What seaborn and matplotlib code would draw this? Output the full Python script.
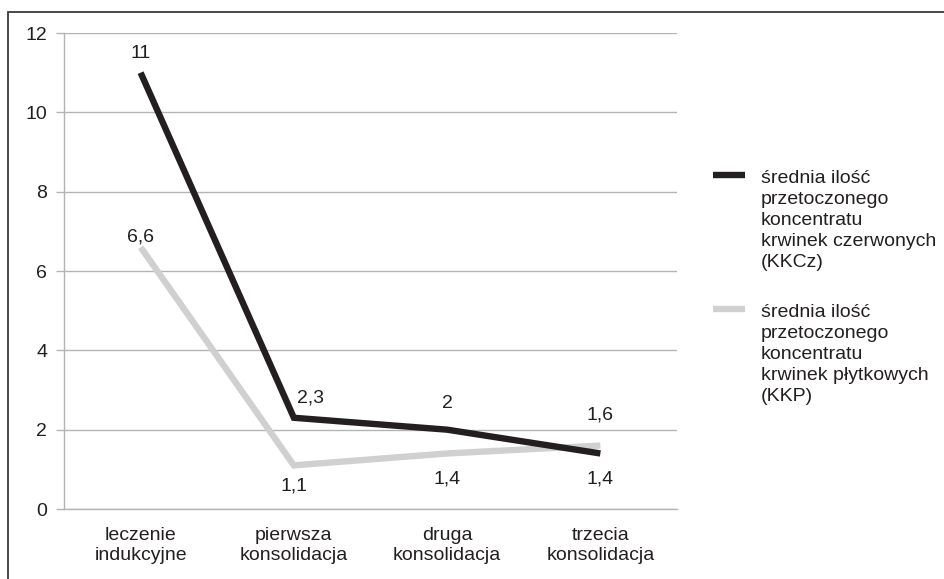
import pandas as pd
import matplotlib
matplotlib.use('Agg')
import matplotlib.pyplot as plt
import seaborn as sns
from matplotlib.legend_handler import HandlerLine2D
from matplotlib.patches import Rectangle

# dane
etapy = ['leczenie\nindukcyjne', 'pierwsza\nkonsolidacja', 'druga\nkonsolidacja', 'trzecia\nkonsolidacja']
kkcz = [11, 2.3, 2, 1.4]
kkp = [6.6, 1.1, 1.4, 1.6]
seria_kkcz = 'średnia ilość\nprzetoczonego\nkoncentratu\nkrwinek czerwonych\n(KKCz)'
seria_kkp = 'średnia ilość\nprzetoczonego\nkoncentratu\nkrwinek płytkowych\n(KKP)'

df = pd.DataFrame({
    'x': list(range(len(etapy))) * 2,
    'wartosc': kkcz + kkp,
    'seria': [seria_kkcz] * len(kkcz) + [seria_kkp] * len(kkp),
})

sns.set_style('white')
plt.rcParams['font.family'] = ['Liberation Sans', 'DejaVu Sans']
TXT = '#231f20'
GRID = '#b4b4b4'
FS = 14

fig = plt.figure(figsize=(9.45, 5.79), dpi=100)
ax = fig.add_axes([64 / 945, 1 - 509 / 579, (677 - 64) / 945, (509 - 33) / 579])

# gray first so the black line sits on top
kolory = {seria_kkcz: '#231f20', seria_kkp: '#d0d0d0'}
sns.lineplot(data=df, x='x', y='wartosc', hue='seria', hue_order=[seria_kkp, seria_kkcz],
             palette=kolory, linewidth=4.6, ax=ax, legend=False,
             solid_joinstyle='miter', solid_capstyle='butt')

ax.set_xlim(-0.5, len(etapy) - 0.5)
ax.set_ylim(0, 12)
ax.set_yticks(range(0, 13, 2))
ax.set_xticks(range(len(etapy)))
ax.set_xticklabels(etapy)
ax.set_xticks([i - 0.5 for i in range(len(etapy) + 1)], minor=True)
ax.tick_params(axis='x', which='major', length=0, pad=13, labelsize=FS, labelcolor=TXT)
ax.tick_params(axis='x', which='minor', length=6, width=1, color=GRID, direction='out')
ax.tick_params(axis='y', length=6, width=1, color=GRID, direction='out', pad=6,
               labelsize=FS, labelcolor=TXT, left=True)
ax.set_xlabel('')
ax.set_ylabel('')
ax.yaxis.grid(True, color=GRID, linewidth=1)
ax.set_axisbelow(True)
for s in ['top', 'right']:
    ax.spines[s].set_visible(False)
for s in ['left', 'bottom']:
    ax.spines[s].set_color(GRID)
    ax.spines[s].set_linewidth(1)

# etykiety danych
def fmt(v):
    return f'{v:g}'.replace('.', ',')

przes_kkcz = [(0, 8), (12, 8), (0, 13), (0, -12)]
przes_kkp = [(0, 1), (0, -9), (0, -12), (0, 16)]
for seria, przes in [(kkcz, przes_kkcz), (kkp, przes_kkp)]:
    for i, (v, (dx, dy)) in enumerate(zip(seria, przes)):
        ax.annotate(fmt(v), (i, v), xytext=(dx, dy), textcoords='offset points',
                    ha='center', va='bottom' if dy > 0 else 'top', fontsize=FS, color=TXT)

# legenda - kreska na wysokosci pierwszej linii tekstu
class KreskaGora(HandlerLine2D):
    def create_artists(self, legend, orig_handle, xdescent, ydescent, width, height, fontsize, trans):
        arts = super().create_artists(legend, orig_handle, xdescent, ydescent, width, height, fontsize, trans)
        for a in arts:
            a.set_ydata([y + 2.35 * fontsize for y in a.get_ydata()])
        return arts

h_kkcz = plt.Line2D([], [], color=kolory[seria_kkcz], linewidth=4.6, solid_capstyle='butt')
h_kkp = plt.Line2D([], [], color=kolory[seria_kkp], linewidth=4.6, solid_capstyle='butt')
leg = ax.legend([h_kkcz, h_kkp], [seria_kkcz, seria_kkp], loc='upper left',
                bbox_to_anchor=(713 / 945, 1 - 170 / 579), bbox_transform=fig.transFigure,
                frameon=False, fontsize=FS, borderpad=0, borderaxespad=0,
                handlelength=1.65, handletextpad=0.8, labelspacing=1.7,
                handler_map={plt.Line2D: KreskaGora()})
for t in leg.get_texts():
    t.set_color(TXT)
    t.set_linespacing(1.31)

# ramka wykresu
fig.patches.append(Rectangle((8 / 945, -0.1), 1.2, 1 - 12 / 579 + 0.1, transform=fig.transFigure,
                             fill=False, edgecolor='#3c3c3c', linewidth=1.3))

fig.savefig('out.png', dpi=100)
